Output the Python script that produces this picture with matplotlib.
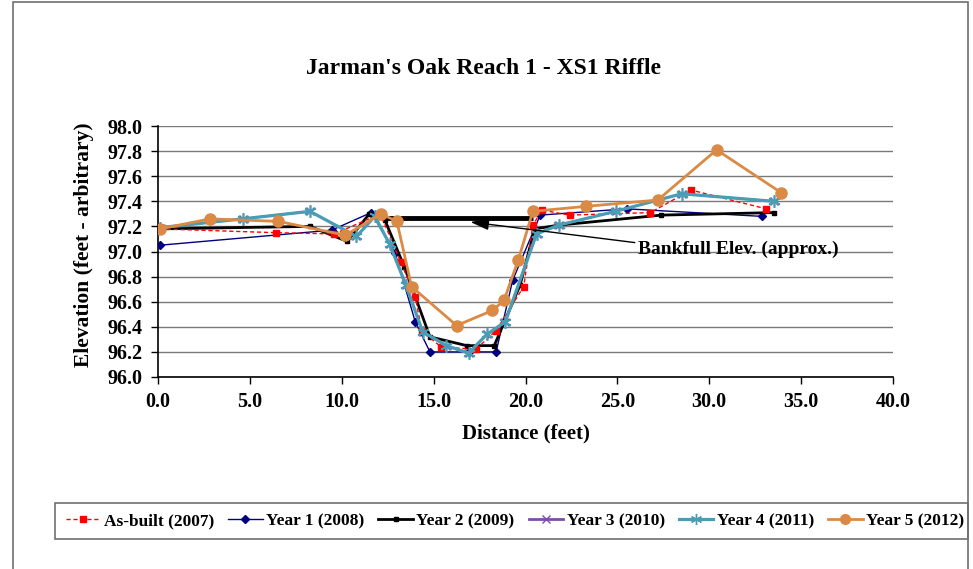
import matplotlib
matplotlib.use("Agg")
import matplotlib.pyplot as plt
from matplotlib.patches import Rectangle
from matplotlib.lines import Line2D

plt.rcParams['font.family'] = ['Liberation Serif', 'DejaVu Serif']
plt.rcParams['font.weight'] = 'bold'

# ---- data (distance ft, elevation ft) ----
asbuilt_x = [0.1, 6.4, 9.6, 12.1, 13.2, 14.0, 14.35, 15.4, 17.3, 18.4, 19.9, 20.4, 20.9, 22.4, 26.8, 29.0, 33.1]
asbuilt_y = [97.18, 97.15, 97.14, 97.30, 96.92, 96.64, 96.37, 96.24, 96.22, 96.37, 96.72, 97.21, 97.33, 97.29, 97.31, 97.49, 97.34]

year1_x = [0.1, 9.45, 11.6, 12.9, 14.0, 14.8, 16.9, 18.4, 19.3, 20.8, 25.5, 32.85]
year1_y = [97.05, 97.17, 97.31, 96.99, 96.44, 96.20, 96.20, 96.20, 96.77, 97.29, 97.34, 97.28]

year2_x = [0.1, 8.27, 10.3, 11.5, 12.35, 13.4, 14.8, 16.8, 18.3, 19.7, 20.5, 21.8, 27.4, 33.5]
year2_y = [97.18, 97.20, 97.08, 97.30, 97.25, 96.88, 96.32, 96.25, 96.25, 96.73, 97.18, 97.21, 97.29, 97.31]

year3_x = [0.1, 4.6, 8.27, 10.8, 11.8, 12.6, 13.5, 14.4, 15.7, 16.9, 17.9, 18.9, 20.6, 21.8, 24.9, 28.5, 33.5]
year3_y = [97.19, 97.26, 97.32, 97.12, 97.28, 97.06, 96.73, 96.36, 96.25, 96.19, 96.34, 96.44, 97.14, 97.21, 97.32, 97.46, 97.40]

year4_x = [0.1, 4.6, 8.27, 10.8, 11.8, 12.6, 13.5, 14.4, 15.7, 16.9, 17.9, 18.9, 20.6, 21.8, 24.9, 28.5, 33.5]
year4_y = [97.19, 97.26, 97.32, 97.12, 97.28, 97.06, 96.73, 96.36, 96.25, 96.19, 96.34, 96.44, 97.14, 97.21, 97.32, 97.46, 97.40]

year5_x = [0.1, 2.83, 6.55, 10.2, 12.14, 13.0, 13.8, 16.25, 18.2, 18.83, 19.6, 20.4, 23.3, 27.2, 30.4, 33.9]
year5_y = [97.18, 97.26, 97.24, 97.13, 97.30, 97.24, 96.72, 96.41, 96.53, 96.61, 96.93, 97.32, 97.36, 97.41, 97.81, 97.47]

bankfull_x = [12.2, 20.4]
bankfull_y = [97.27, 97.27]

x_ticks = [0, 5, 10, 15, 20, 25, 30, 35, 40]
y_ticks = [96.0, 96.2, 96.4, 96.6, 96.8, 97.0, 97.2, 97.4, 97.6, 97.8, 98.0]

W, H = 973, 569
fig = plt.figure(figsize=(W / 100, H / 100), dpi=100)
ax = fig.add_axes([158 / W, 1 - 377 / H, 735 / W, 251 / H])

c_red = '#FF0000'
c_navy = '#000080'
c_purple = '#7B4FA6'
c_teal = '#4A9DB5'
c_orange = '#DA8A45'

ax.plot(year3_x, year3_y, color=c_purple, lw=1.5, marker='x', ms=6, zorder=3)
ax.plot(year1_x, year1_y, color=c_navy, lw=1.0, marker='D', ms=4, zorder=4)
ax.plot(year2_x, year2_y, color='black', lw=2.0, marker='s', ms=3, zorder=4)
ax.plot(bankfull_x, bankfull_y, color='black', lw=3.5, solid_capstyle='butt', zorder=4)
ax.plot(asbuilt_x, asbuilt_y, color=c_red, lw=1.0, ls=(0, (3, 2)), marker='s', ms=5, zorder=5)
ax.plot(year4_x, year4_y, color=c_teal, lw=2.3, marker=(6, 2, 0), ms=9, mew=1.2, zorder=6)
ax.plot(year5_x, year5_y, color=c_orange, lw=2.0, marker='o', ms=8, zorder=7)

ax.set_xlim(0, 40)
ax.set_ylim(96.0, 98.0)
ax.set_xticks(x_ticks)
ax.set_xticklabels([f"{v:.1f}" for v in x_ticks])
ax.set_yticks(y_ticks)
ax.set_yticklabels([f"{v:.1f}" for v in y_ticks])
ax.tick_params(axis='both', labelsize=14.5, length=5, width=1, direction='out')
ax.tick_params(axis='x', pad=6)
ax.tick_params(axis='y', pad=6)
for lbl in ax.get_xticklabels() + ax.get_yticklabels():
    lbl.set_fontweight('bold')
ax.grid(axis='y', color='#7a7a7a', lw=1.0)
ax.set_axisbelow(True)
for s in ['top', 'right']:
    ax.spines[s].set_visible(False)
ax.spines['left'].set_linewidth(1.2)
ax.spines['bottom'].set_linewidth(1.2)

ax.set_xlabel('Distance (feet)', fontsize=15, fontweight='bold', labelpad=8)
ax.set_ylabel('Elevation (feet - arbitrary)', fontsize=15.5, fontweight='bold')
ax.yaxis.set_label_coords((94 - 158) / 735, (377 - 245) / 251)

ax.annotate('Bankfull Elev. (approx.)', xy=(17.0, 97.235), xytext=(26.1, 97.02),
            fontsize=14, fontweight='bold', ha='left', va='center',
            arrowprops=dict(arrowstyle='-|>,head_length=0.8,head_width=0.25', color='black',
                            lw=1.0, relpos=(0, 0.85), shrinkA=0, shrinkB=0), zorder=8)

fig.text(484 / W, 1 - 69 / H, "Jarman's Oak Reach 1 - XS1 Riffle", ha='center', va='center',
         fontsize=17, fontweight='bold')

# outer chart border
fig.patches.append(Rectangle((13 / W, -0.1), (968 - 13) / W, 1.1 - 2 / H, transform=fig.transFigure,
                             fill=False, edgecolor='#707070', lw=1.2))
# legend box
fig.patches.append(Rectangle((55 / W, 1 - 539 / H), (968 - 55) / W, 36 / H, transform=fig.transFigure,
                             fill=False, edgecolor='#707070', lw=1.2))

handles = [
    Line2D([], [], color=c_red, lw=1.0, ls=(0, (3, 2)), marker='s', ms=5),
    Line2D([], [], color=c_navy, lw=1.0, marker='D', ms=4),
    Line2D([], [], color='black', lw=2.0, marker='s', ms=3),
    Line2D([], [], color=c_purple, lw=2.0, marker='x', ms=6),
    Line2D([], [], color=c_teal, lw=2.3, marker=(6, 2, 0), ms=8),
    Line2D([], [], color=c_orange, lw=2.0, marker='o', ms=7),
]
labels = ['As-built (2007)', 'Year 1 (2008)', 'Year 2 (2009)', 'Year 3 (2010)', 'Year 4 (2011)', 'Year 5 (2012)']
leg = fig.legend(handles, labels, loc='center', ncol=6,
                 bbox_to_anchor=(515 / W, 1 - 521 / H),
                 prop={'family': 'Liberation Serif', 'weight': 'bold', 'size': 12.5},
                 frameon=False, handlelength=2.0,
                 handletextpad=0.2, columnspacing=0.8, borderaxespad=0)

fig.savefig('out.png', dpi=100)
